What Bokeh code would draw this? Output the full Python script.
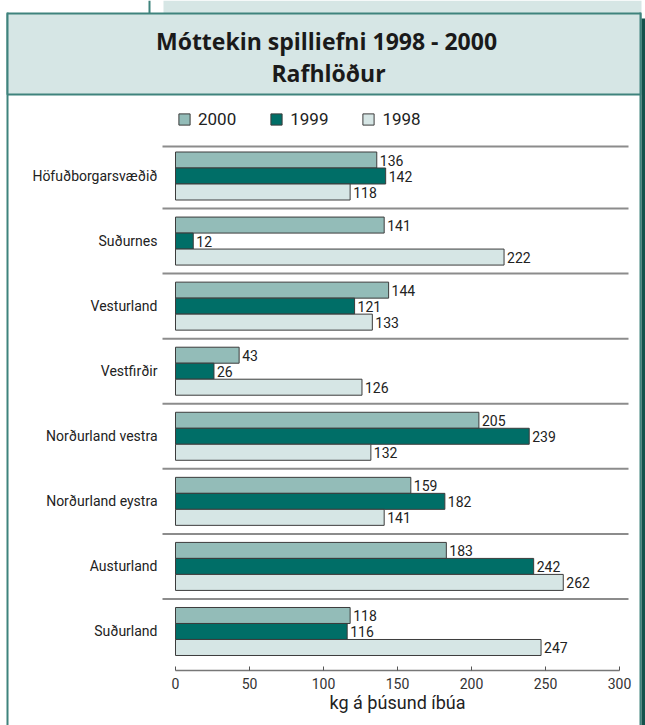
from bokeh.plotting import figure
from bokeh.models import (Range1d, FixedTicker, Legend, LegendItem, ColumnDataSource,
                          LinearAxis)
from bokeh.core.properties import value
from bokeh.embed import file_html
from bokeh.resources import INLINE

# ---------------- data ----------------
regions = ["Höfuðborgarsvæðið", "Suðurnes", "Vesturland", "Vestfirðir",
           "Norðurland vestra", "Norðurland eystra", "Austurland", "Suðurland"]
years = ["2000", "1999", "1998"]
v2000 = [136, 141, 144, 43, 205, 159, 183, 118]
v1999 = [142, 12, 121, 26, 239, 182, 242, 116]
v1998 = [118, 222, 133, 126, 132, 141, 262, 247]
x_ticks = [0, 50, 100, 150, 200, 250, 300]
x_title = "kg á þúsund íbúa"
title1 = "Móttekin spilliefni 1998 - 2000"
title2 = "Rafhlöður"

# ---------------- styling / geometry ----------------
C2000, C1999, C1998 = "#93bcb8", "#006e67", "#d6e6e5"
TEAL = "#3f837d"
DARK = "#14524c"
BOX_FILL = "#d6e6e5"
FONT = "Roboto"
TFONT = "Open Sans"

W, H = 645, 725
PXU = 1.48          # px per kg unit
X0 = 175            # canvas px of value 0
GU = 65.07          # px per region group
TOPC = 175.5        # canvas px of top group centre
n = len(regions)

x_start = -X0 / PXU
x_end = (W - X0) / PXU
y_end = (n - 1) + TOPC / GU
y_start = y_end - H / GU


def dx(px):
    return x_start + px / PXU


def dy(py):
    return y_end - py / GU


pos = [n - 1 - i for i in range(n)]
BH = 16 / GU

p = figure(width=W, height=H, output_backend="svg", toolbar_location=None,
           x_range=Range1d(x_start, x_end), y_range=Range1d(y_start, y_end),
           x_axis_location=None, y_axis_location=None,
           min_border=0, min_border_left=0, min_border_right=0,
           min_border_top=0, min_border_bottom=0)
p.outline_line_color = None
p.xgrid.visible = False
p.ygrid.visible = False
p.background_fill_color = "white"
p.border_fill_color = "white"

# ---------------- page frame decorations ----------------
def box(l, r, t, b, fill, line=None, lw=0):
    p.quad(left=[dx(l)], right=[dx(r)], top=[dy(t)], bottom=[dy(b)],
           fill_color=fill, line_color=line, line_width=lw)

box(163, 641, 0, 13, BOX_FILL)
box(148, 150, 0, 13, TEAL)
box(6, 8, 12, H, TEAL)
box(639, 641, 12, H, TEAL)
box(641, 646, 18, H, DARK)
box(7, 640, 13, 94, BOX_FILL, TEAL, 2)

p.text(x=[dx(326), dx(328)], y=[dy(40), dy(72)], text=[title1, title2],
       text_align="center", text_baseline="middle", text_font=value(TFONT),
       text_font_style="bold", text_font_size="23px", text_color="#1a1a1a")

# separators between region groups
seps = [dy(146)] + [k + 0.5 for k in range(n - 1)]
p.segment(x0=[dx(162)] * len(seps), x1=[dx(628)] * len(seps), y0=seps, y1=seps,
          line_color="#8c8c8c", line_width=2)

# ---------------- bars ----------------
renderers = []
for vals, col, off in [(v2000, C2000, BH), (v1999, C1999, 0.0), (v1998, C1998, -BH)]:
    src = ColumnDataSource(dict(y=[q + off for q in pos], v=vals,
                                t=[str(v) for v in vals]))
    r = p.hbar(y="y", left=0, right="v", height=BH, source=src,
               fill_color=col, line_color="#3c3c3c", line_width=1)
    p.text(x="v", y="y", text="t", source=src, x_offset=3, text_baseline="middle",
           text_align="left", text_font=value(FONT), text_font_size="14px",
           text_color="#222222")
    renderers.append(r)

legend = Legend(items=[LegendItem(label=yr, renderers=[r]) for yr, r in zip(years, renderers)],
                orientation="horizontal", location=(177, H - 129), padding=0, margin=0,
                spacing=33, glyph_width=14, glyph_height=14, label_standoff=7,
                label_text_font=FONT, label_text_font_size="17px",
                label_text_color="#222222", border_line_color=None,
                background_fill_alpha=0)
p.add_layout(legend)

# ---------------- axes (fixed inside the canvas-wide frame) ----------------
xa = LinearAxis(fixed_location=dy(670))
xa.ticker = FixedTicker(ticks=x_ticks)
xa.bounds = (0, 300)
xa.axis_line_color = "#777777"
xa.axis_line_width = 1.5
xa.major_tick_in = 4
xa.major_tick_out = 0
xa.major_tick_line_color = "#555555"
xa.minor_tick_line_color = None
xa.major_label_text_font = FONT
xa.major_label_text_font_size = "14px"
xa.major_label_text_color = "#333333"
xa.major_label_standoff = 7
xa.axis_label = x_title
xa.axis_label_text_font = FONT
xa.axis_label_text_font_size = "18px"
xa.axis_label_text_font_style = "normal"
xa.axis_label_text_color = "#222222"
xa.axis_label_standoff = 0
p.add_layout(xa, "below")

ya = LinearAxis(fixed_location=dx(162))
ya.ticker = FixedTicker(ticks=pos)
ya.major_label_overrides = {q: name for q, name in zip(pos, regions)}
ya.axis_line_color = None
ya.major_tick_line_color = None
ya.minor_tick_line_color = None
ya.major_tick_in = 0
ya.major_tick_out = 0
ya.major_label_text_font = FONT
ya.major_label_text_font_size = "14px"
ya.major_label_text_color = "#222222"
ya.major_label_standoff = 5
p.add_layout(ya, "left")

open("out.html", "w").write(file_html(p, INLINE))
